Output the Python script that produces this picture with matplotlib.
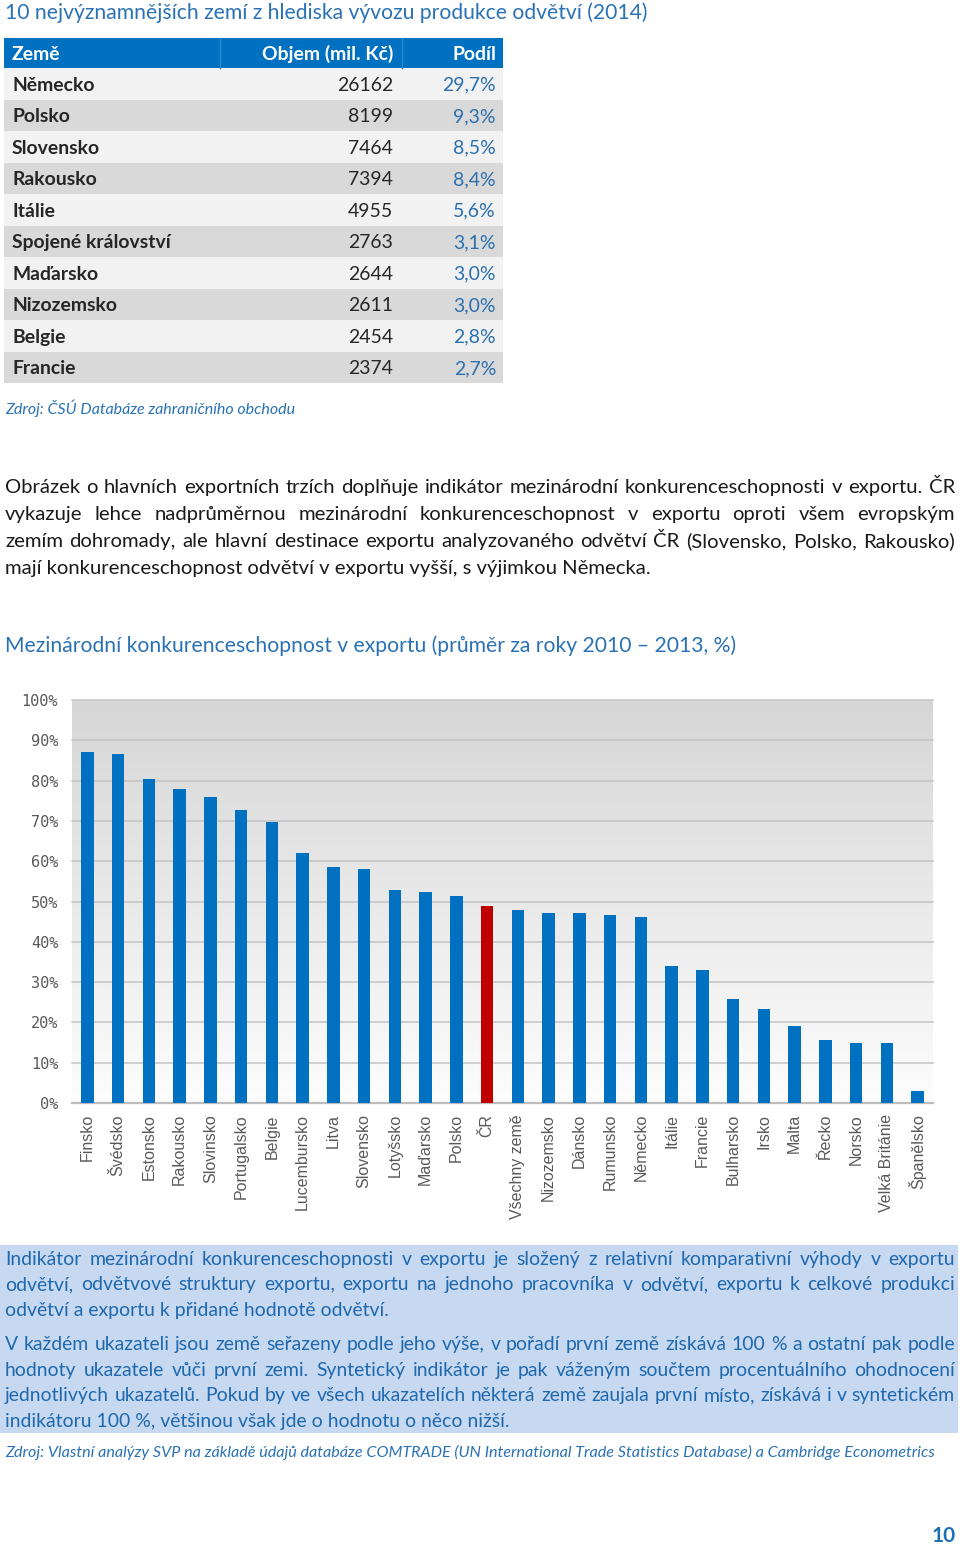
import numpy as np
import matplotlib
matplotlib.use("Agg")
import matplotlib.pyplot as plt
from matplotlib.patches import Rectangle
from matplotlib.colors import to_rgb

# --- data ---------------------------------------------------------------
tbl_countries = ["Německo", "Polsko", "Slovensko", "Rakousko", "Itálie",
                 "Spojené království", "Maďarsko", "Nizozemsko", "Belgie", "Francie"]
tbl_objem = [26162, 8199, 7464, 7394, 4955, 2763, 2644, 2611, 2454, 2374]
tbl_podil = [29.7, 9.3, 8.5, 8.4, 5.6, 3.1, 3.0, 3.0, 2.8, 2.7]
tbl_header = ["Země", "Objem (mil. Kč)", "Podíl"]

chart_countries = ["Finsko", "Švédsko", "Estonsko", "Rakousko", "Slovinsko",
                   "Portugalsko", "Belgie", "Lucembursko", "Litva", "Slovensko",
                   "Lotyšsko", "Maďarsko", "Polsko", "ČR", "Všechny země",
                   "Nizozemsko", "Dánsko", "Rumunsko", "Německo", "Itálie",
                   "Francie", "Bulharsko", "Irsko", "Malta", "Řecko", "Norsko",
                   "Velká Británie", "Španělsko"]
chart_values = [87.0, 86.6, 80.5, 77.8, 75.9, 72.8, 69.8, 62.1, 58.5, 58.1,
                52.9, 52.4, 51.4, 48.9, 47.9, 47.1, 47.1, 46.7, 46.2, 33.9,
                32.9, 25.9, 23.4, 19.1, 15.7, 14.8, 14.8, 3.0]
highlight = "ČR"

title_top = "10 nejvýznamnějších zemí z hlediska vývozu produkce odvětví (2014)"
source_top = "Zdroj: ČSÚ Databáze zahraničního obchodu"
para1 = [
    "Obrázek o hlavních exportních trzích doplňuje indikátor mezinárodní konkurenceschopnosti v exportu. ČR",
    "vykazuje lehce nadprůměrnou mezinárodní konkurenceschopnost v exportu oproti všem evropským",
    "zemím dohromady, ale hlavní destinace exportu analyzovaného odvětví ČR (Slovensko, Polsko, Rakousko)",
    "mají konkurenceschopnost odvětví v exportu vyšší, s výjimkou Německa.",
]
chart_title = "Mezinárodní konkurenceschopnost v exportu (průměr za roky 2010 – 2013, %)"
box_para1 = [
    "Indikátor mezinárodní konkurenceschopnosti v exportu je složený z relativní komparativní výhody v exportu",
    "odvětví, odvětvové struktury exportu, exportu na jednoho pracovníka v odvětví, exportu k celkové produkci",
    "odvětví a exportu k přidané hodnotě odvětví.",
]
box_para2 = [
    "V každém ukazateli jsou země seřazeny podle jeho výše, v pořadí první země získává 100 % a ostatní pak podle",
    "hodnoty ukazatele vůči první zemi. Syntetický indikátor je pak váženým součtem procentuálního ohodnocení",
    "jednotlivých ukazatelů. Pokud by ve všech ukazatelích některá země zaujala první místo, získává i v syntetickém",
    "indikátoru 100 %, většinou však jde o hodnotu o něco nižší.",
]
source_bottom = ("Zdroj: Vlastní analýzy SVP na základě údajů databáze COMTRADE "
                 "(UN International Trade Statistics Database) a Cambridge Econometrics")

FONT = ["Lato", "DejaVu Sans"]
BLUE_T = "#2a72b5"
BLUE_BOX_T = "#1f68ad"
W, H = 960, 1548

fig = plt.figure(figsize=(W / 100, H / 100), dpi=100)
fig.patch.set_facecolor("white")

# page overlay in pixel coordinates
page = fig.add_axes([0, 0, 1, 1], zorder=0)
page.set_xlim(0, W)
page.set_ylim(H, 0)
page.axis("off")
r = fig.canvas.get_renderer()


def fit_size(s, target, **kw):
    t = page.text(0, 0, s, fontsize=10, family=FONT, **kw)
    w = t.get_window_extent(r).width
    t.remove()
    return 10 * target / w


def txt(x, y, s, size, **kw):
    # y is the visual middle of the lowercase letters; place on baseline
    return page.text(x, y + 0.36 * size * 100 / 72, s, fontsize=size, family=FONT,
                     va="baseline", **kw)


def line(s, x0, x1, y, size, justify, **kw):
    if not justify:
        txt(x0, y, s, size, **kw)
        return
    words = s.split(" ")
    ts = [txt(0, y, w, size, **kw) for w in words]
    ws = [t.get_window_extent(r).width for t in ts]
    gap = (x1 - x0 - sum(ws)) / (len(words) - 1)
    x = x0
    for t, w in zip(ts, ws):
        t.set_x(x)
        x += w + gap


# top title
txt(5, 11, title_top, fit_size(title_top, 644), color=BLUE_T)

# table
x0, x1 = 4, 503
hdr_top, hdr_bot = 38, 68
row_h = 31.5
page.add_patch(Rectangle((x0, hdr_top), x1 - x0, hdr_bot - hdr_top, color="#0070c0", lw=0))
for sx in (220, 402):
    page.plot([sx, sx], [hdr_top, hdr_bot], color="#2a86cf", lw=1)
tsize = fit_size("Spojené království", 159, weight="bold")
hy = (hdr_top + hdr_bot) / 2
txt(12, hy, tbl_header[0], tsize, weight="bold", color="white")
txt(393, hy, tbl_header[1], tsize, weight="bold", color="white", ha="right")
txt(496, hy, tbl_header[2], tsize, weight="bold", color="white", ha="right")
for i, (c, o, p) in enumerate(zip(tbl_countries, tbl_objem, tbl_podil)):
    top = hdr_bot + i * row_h
    page.add_patch(Rectangle((x0, top), x1 - x0, row_h,
                             color="#f2f2f2" if i % 2 == 0 else "#d9d9d9", lw=0))
    cy = top + row_h / 2
    txt(12, cy, c, tsize, weight="bold", color="#262626")
    txt(393, cy, str(o), tsize, color="#262626", ha="right")
    txt(496, cy, f"{p:.1f}%".replace(".", ","), tsize, color="#2a6fae", ha="right")

txt(5, 408, source_top, fit_size(source_top, 291, style="italic"),
    style="italic", color=BLUE_T)

# paragraph
psize = fit_size(para1[-1], 647)
for k, s in enumerate(para1):
    line(s, 5, 955, 486 + 27 * k, psize, k < len(para1) - 1, color="#1a1a1a")

# chart title
txt(5, 644, chart_title, fit_size(chart_title, 733), color=BLUE_T)

# bar chart
ax = fig.add_axes([72 / W, 1 - 1103 / H, 861 / W, 403 / H], zorder=1)
n = len(chart_countries)
top_c = np.array(to_rgb("#d6d6d6"))
bot_c = np.array(to_rgb("#fdfdfd"))
t = np.linspace(0, 1, 256)[:, None]
grad = (top_c * (1 - t) + bot_c * t)[:, None, :]
ax.imshow(grad, extent=(-0.5, n - 0.5, 0, 100), aspect="auto", zorder=0)
ax.set_xlim(-0.5, n - 0.5)
ax.set_ylim(0, 100)
ax.set_yticks(np.arange(0, 101, 10))
for v in range(10, 101, 10):
    ax.axhline(v, color="#c3c3c3", lw=1.1, zorder=1, clip_on=False)
colors = ["#c00000" if c == highlight else "#0070c0" for c in chart_countries]
ax.bar(np.arange(n), chart_values, width=0.4, color=colors, zorder=3)
for s in ("top", "right", "left"):
    ax.spines[s].set_visible(False)
ax.spines["bottom"].set_color("#bdbdbd")
ax.spines["bottom"].set_linewidth(1.6)
ax.set_yticklabels([f"{v}%" for v in range(0, 101, 10)], family="DejaVu Sans Mono",
                   fontsize=11, color="#595959")
ax.set_xticks(np.arange(n))
ax.set_xticklabels(chart_countries, rotation=90, family="Liberation Sans",
                   fontsize=11.5, color="#595959")
ax.tick_params(axis="y", length=0, pad=10)
ax.tick_params(axis="x", length=0, pad=8)

# blue box
page.add_patch(Rectangle((0, 1245), 958, 188, color="#c6d9f1", lw=0))
bsize = fit_size(box_para1[-1], 384)
for k, s in enumerate(box_para1):
    line(s, 5, 955, 1258 + 25.5 * k, bsize, k < len(box_para1) - 1, color=BLUE_BOX_T)
for k, s in enumerate(box_para2):
    line(s, 5, 955, 1343 + 25.7 * k, bsize, k < len(box_para2) - 1, color=BLUE_BOX_T)

txt(5, 1451, source_bottom, fit_size(source_bottom, 933, style="italic"),
    style="italic", color=BLUE_T)

txt(956, 1534, "10", 15, weight="bold", color="#1f6fb5", ha="right")

fig.savefig("out.png", dpi=100)
